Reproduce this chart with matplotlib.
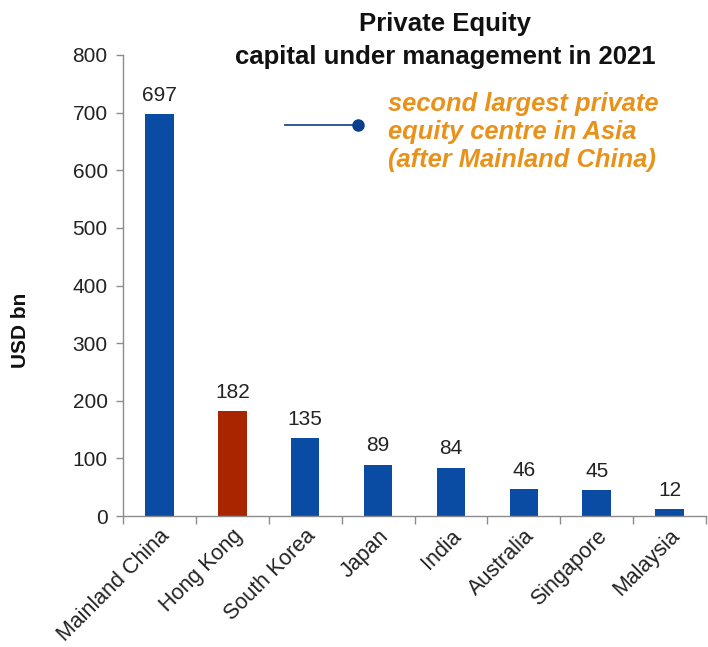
import matplotlib
matplotlib.use("Agg")
import matplotlib.pyplot as plt

categories = ["Mainland China", "Hong Kong", "South Korea", "Japan", "India",
              "Australia", "Singapore", "Malaysia"]
values = [697, 182, 135, 89, 84, 46, 45, 12]
highlight = "Hong Kong"
yticks = [0, 100, 200, 300, 400, 500, 600, 700, 800]

BLUE = "#0A4CA3"
RED = "#A82500"
ORANGE = "#E8921C"
GREY = "#8C8C8C"

plt.rcParams['font.family'] = ['Liberation Sans', 'DejaVu Sans']

fig = plt.figure(figsize=(7.08, 6.47), dpi=100)
ax = fig.add_axes([123/708, 1-516/647, (706-123)/708, (516-55)/647])

colors = [RED if c == highlight else BLUE for c in categories]
x = list(range(len(categories)))
bars = ax.bar(x, values, width=0.39, color=colors, zorder=2)
for xi, v in zip(x, values):
    ax.text(xi, v + 16, str(v), ha='center', va='bottom', fontsize=15, color='#222222')

ax.set_xlim(-0.5, len(categories) - 0.5)
ax.set_ylim(0, 800)
ax.set_yticks(yticks)
ax.set_yticklabels([str(t) for t in yticks], fontsize=15, color='#222222')
ax.set_xticks(x)
ax.set_xticklabels(categories, rotation=45, ha='right', rotation_mode='anchor',
                   fontsize=15.5, color='#222222')
ax.tick_params(axis='x', length=0, pad=7)
ax.set_xticks([i + 0.5 for i in range(-1, len(categories))], minor=True)
ax.tick_params(axis='x', which='minor', length=6, color=GREY, width=1)
ax.tick_params(axis='y', length=5, color=GREY, width=1, pad=6)

for s in ['top', 'right']:
    ax.spines[s].set_visible(False)
for s in ['left', 'bottom']:
    ax.spines[s].set_color(GREY)
    ax.spines[s].set_linewidth(1)

fig.text(20/708, 1-330/647, "USD bn", rotation=90, ha='center', va='center',
         fontsize=15, fontweight='bold', color='#111111')

fig.text(445/708, 1-24/647, "Private Equity", ha='center', va='center',
         fontsize=18.5, fontweight='bold', color='#111111')
fig.text(445/708, 1-57/647, "capital under management in 2021", ha='center', va='center',
         fontsize=18.5, fontweight='bold', color='#111111')

# annotation
fig.add_artist(plt.Line2D([285/708, 356/708], [1-125/647, 1-125/647],
                          color='#1F4E8C', lw=1.3, transform=fig.transFigure))
fig.add_artist(plt.Line2D([358/708], [1-125/647], marker='o', markersize=8,
                          color='#0A3F8C', transform=fig.transFigure))
fig.text(388/708, 1-132/647,
         "second largest private\nequity centre in Asia\n(after Mainland China)",
         ha='left', va='center', fontsize=18.4, fontweight='bold', fontstyle='italic',
         color=ORANGE, linespacing=1.2)

fig.savefig("out.png", dpi=100, facecolor='white')
